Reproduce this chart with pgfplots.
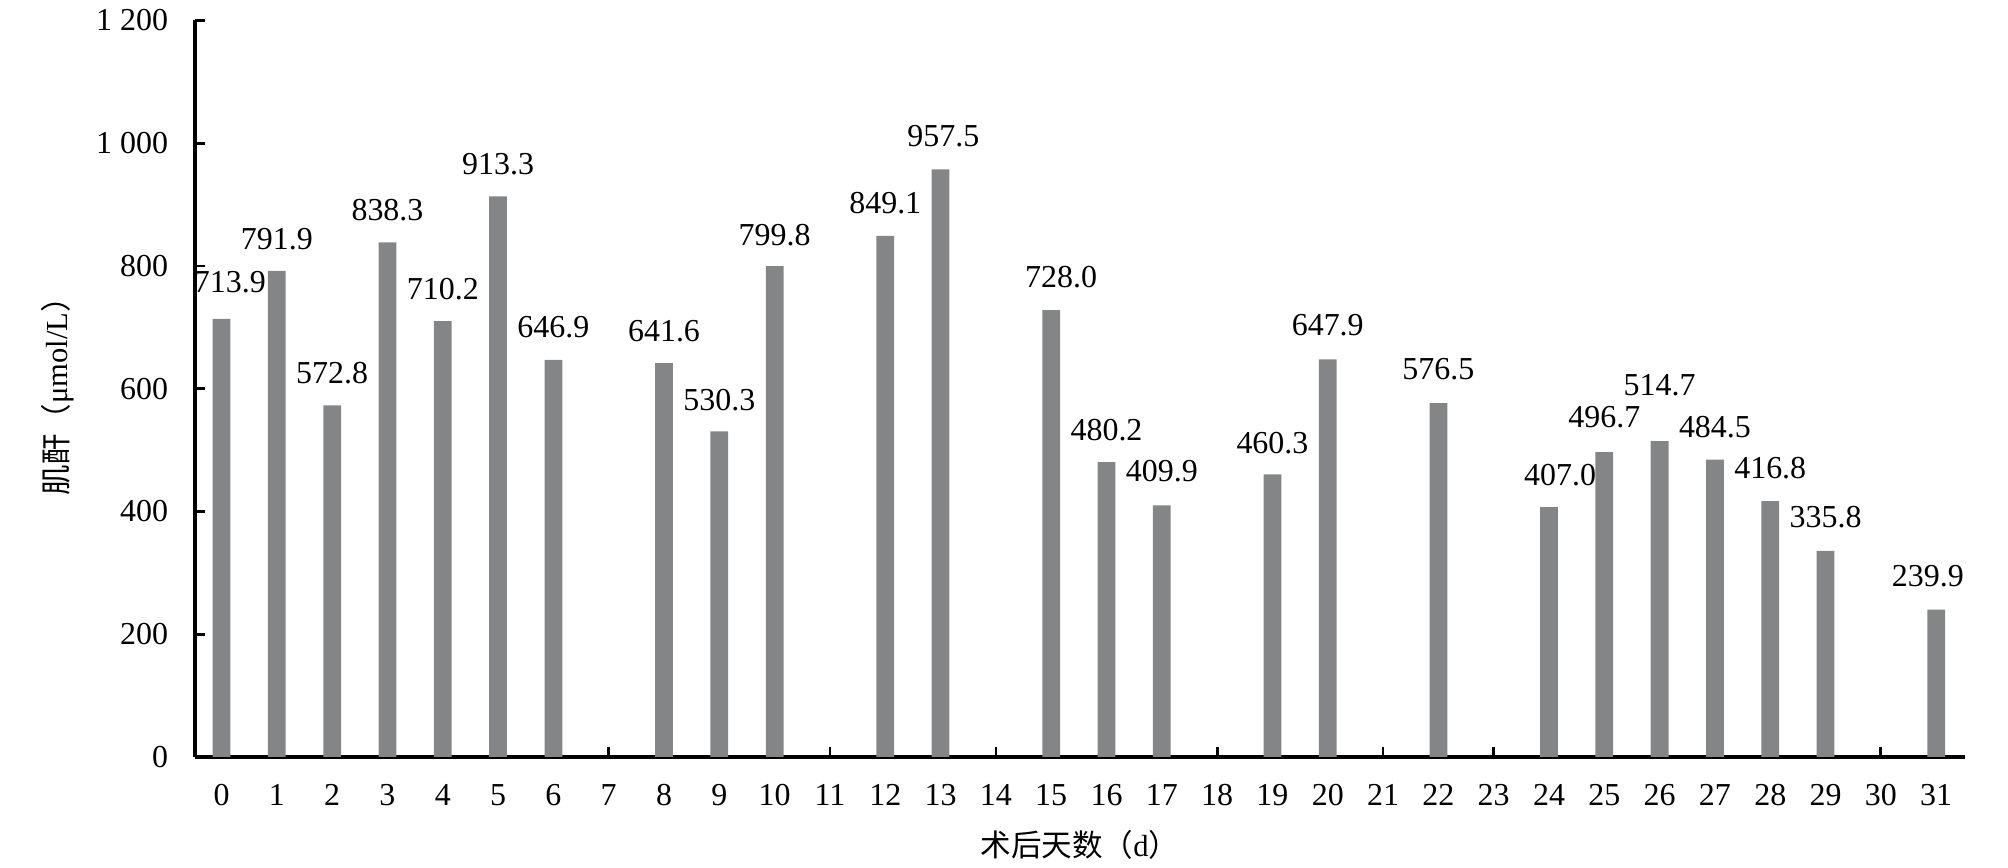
\documentclass[border=0pt]{standalone}
\usepackage{fontspec}
\setmainfont{Liberation Serif}
\newfontfamily\cjk{Noto Sans CJK SC}
\usepackage{pgfplots}
\usepackage{pgfplotstable}
\pgfplotsset{compat=1.18}
\definecolor{bargray}{RGB}{132,133,135}

\pgfplotstableread{
x y
0 713.9
1 791.9
2 572.8
3 838.3
4 710.2
5 913.3
6 646.9
8 641.6
9 530.3
10 799.8
12 849.1
13 957.5
15 728.0
16 480.2
17 409.9
19 460.3
20 647.9
22 576.5
24 407.0
25 496.7
26 514.7
27 484.5
28 416.8
29 335.8
31 239.9
}\bardata

\pgfplotstableread{
x y lab
0.15 773 713.9
1 844 791.9
2 625 572.8
3 891 838.3
4 762 710.2
5 966 913.3
6 700 646.9
8 693 641.6
9 582 530.3
10 851 799.8
12 902 849.1
13.05 1012 957.5
15.18 782 728.0
16 533 480.2
17 465 409.9
19 512 460.3
20 704 647.9
22 631 576.5
24.2 459 407.0
25 553 496.7
26 605 514.7
27 538 484.5
28 471 416.8
29 390 335.8
30.85 295 239.9
}\labdata

\begin{document}
\begin{tikzpicture}
\useasboundingbox (-70.2pt,-39.96pt) rectangle (652.7pt,272.5pt);
\begin{axis}[
  scale only axis,
  width=637.2pt, height=265.14pt,
  at={(0,0)}, anchor=south west,
  xmin=-0.48, xmax=31.52,
  ymin=0, ymax=1200,
  axis lines*=left,
  axis line style={black, line width=1.2pt},
  clip=false,
  xtick={0,1,...,31},
  ytick={0,200,400,600,800,1000,1200},
  tick align=inside,
  major tick length=3.5pt,
  tick style={black, line width=1pt},
  /pgf/number format/assume math mode=true,
  /pgf/number format/1000 sep={\ },
  tick label style={font=\fontsize{11.5}{13}\selectfont},
  xticklabel style={inner sep=0pt, anchor=center, yshift=-13.7pt},
  yticklabel style={inner sep=0pt, anchor=east, xshift=-9.5pt},
  xlabel={{\cjk 术后天数（}d{\cjk ）}},
  ylabel={{\cjk 肌酐（}μmol/L{\cjk ）}},
  every axis x label/.style={at={(axis description cs:0.5,0)}, yshift=-31.7pt, anchor=center, font=\fontsize{11}{13}\selectfont},
  every axis y label/.style={at={(axis description cs:0,0.5)}, xshift=-49.5pt, rotate=90, anchor=center, font=\fontsize{11}{13}\selectfont},
]
\addplot[ybar, bar width=6.4pt, fill=bargray, draw=none] table[x=x, y=y] {\bardata};
\addplot[draw=none, mark=none, nodes near coords, point meta=explicit symbolic,
  nodes near coords style={anchor=center, inner sep=0pt, font=\fontsize{11.5}{13}\selectfont}]
  table[x=x, y=y, meta=lab] {\labdata};
\end{axis}
\end{tikzpicture}
\end{document}
